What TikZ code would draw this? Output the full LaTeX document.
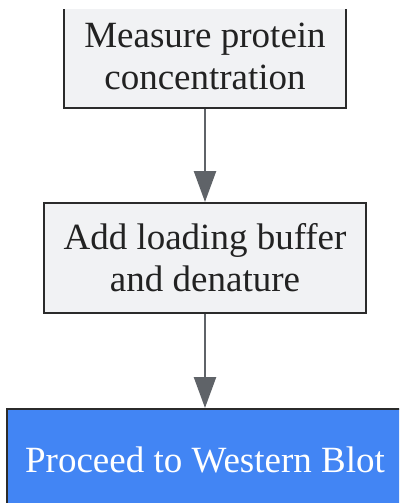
\documentclass[tikz,border=0pt]{standalone}
\usepackage{fontspec}
\setmainfont{Liberation Serif}
\usetikzlibrary{arrows.meta}
\definecolor{boxfill}{HTML}{F1F2F4}
\definecolor{boxline}{HTML}{2B2B2B}
\definecolor{arrowgray}{HTML}{5F6368}
\definecolor{blueb}{HTML}{4285F4}
\definecolor{textdark}{HTML}{222222}
\tikzset{
  stepbox/.style={draw=boxline, line width=2pt, fill=boxfill, text=textdark,
    align=center, inner sep=0pt, font=\fontsize{37}{42}\selectfont},
  bluebox/.style={draw=boxline, line width=2pt, fill=blueb, text=white,
    align=center, inner sep=0pt, font=\fontsize{37}{42}\selectfont},
  flow/.style={draw=arrowgray, line width=2.5pt,
    -{Triangle[length=31pt,width=22pt]}}
}
\begin{document}
\begin{tikzpicture}[x=1pt,y=-1pt]
\useasboundingbox (0,0) rectangle (399,503);
\begin{scope}
\clip (0,10) rectangle (399,503);
\node[stepbox, minimum width=282pt, minimum height=110pt] (n1) at (205,53) {};
\node[stepbox, draw=none, fill=none] (t1) at (205,56) {Measure protein\\concentration};
\node[stepbox, minimum width=322pt, minimum height=110pt] (n2) at (205,258) {Add loading buffer\\and denature};
\node[bluebox, minimum width=396pt, minimum height=110pt] (n3) at (205,464) {};
\node[bluebox, draw=none, fill=none] (t3) at (205,460) {Proceed to Western Blot};
\draw[flow] (n1.south) -- (n2.north);
\draw[flow] (n2.south) -- (n3.north);
\end{scope}
\end{tikzpicture}
\end{document}
